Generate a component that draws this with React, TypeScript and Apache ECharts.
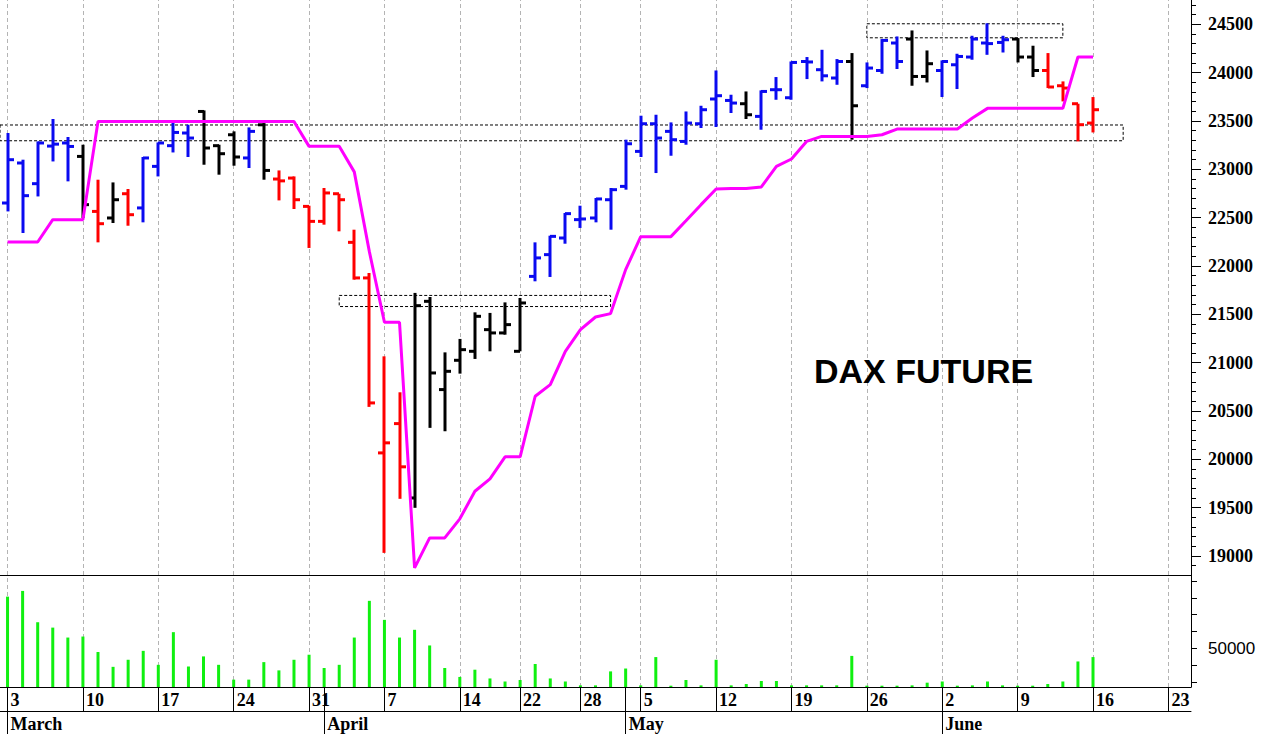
import React, { useEffect, useRef } from 'react';
import * as echarts from 'echarts';

// ---- categories (trading days, plus empty days to the axis end) ----
const marchDays = [3, 4, 5, 6, 7, 10, 11, 12, 13, 14, 17, 18, 19, 20, 21, 24, 25, 26, 27, 28, 31];
const aprilDays = [1, 2, 3, 4, 7, 8, 9, 10, 11, 14, 15, 16, 17, 22, 23, 24, 25, 28, 29, 30];
const mayDays = [2, 5, 6, 7, 8, 9, 12, 13, 14, 15, 16, 19, 20, 21, 22, 23, 26, 27, 28, 29, 30];
const juneDays = [2, 3, 4, 5, 6, 9, 10, 11, 12, 13, 16, 17, 18, 19, 20, 23, 24];
const monthNames: Record<number, string> = { 3: 'March', 4: 'April', 5: 'May', 6: 'June' };

const pad = (n: number) => (n < 10 ? '0' + n : '' + n);
const categories: string[] = [
  ...marchDays.map((d) => `2025-03-${pad(d)}`),
  ...aprilDays.map((d) => `2025-04-${pad(d)}`),
  ...mayDays.map((d) => `2025-05-${pad(d)}`),
  ...juneDays.map((d) => `2025-06-${pad(d)}`),
];

// ---- OHLC ----
const opens = [
  22651, 23065, 22851, 23240, 23272, 23133, 22564, 22496, 22747, 22600,
  23030, 23244, 23375, 23598, 23244, 23357, 23117, 23460, 22899, 22909,
  22616, 22461, 22747, 22244, 21876, 20066, 20369, 19600, 21634, 20721,
  21024, 21117, 21341, 21307, 21117, 21892, 22117, 22289, 22479, 22496,
  22685, 22823, 23185, 23471, 23392, 23288, 23471, 23727, 23712, 23678,
  23547, 23823, 23740, 24115, 24030, 23944, 24115, 23864, 24022, 24306,
  24347, 23960, 24022, 24081, 24161, 24306, 24312, 24347, 24161, 24022,
  23864, 23678, 23478,
];
const highs = [
  23375, 23099, 23288, 23520, 23334, 23254, 22892, 22864, 22796, 23127,
  23278, 23505, 23461, 23609, 23254, 23392, 23433, 23478, 22988, 22926,
  22623, 22806, 22747, 22375, 21927, 21065, 20693, 21721, 21679, 21106,
  21245, 21520, 21514, 21623, 21669, 22244, 22313, 22548, 22623, 22703,
  22806, 23306, 23554, 23564, 23485, 23598, 23657, 24022, 23771, 23805,
  23816, 23954, 24115, 24161, 24236, 24140, 24202, 24105, 24347, 24374,
  24436, 24229, 24126, 24195, 24381, 24510, 24381, 24357, 24278, 24202,
  23909, 23678, 23747,
];
const lows = [
  22564, 22341, 22719, 23081, 22875, 22496, 22244, 22444, 22416, 22451,
  22926, 23174, 23127, 23047, 22944, 23037, 23013, 22892, 22678, 22589,
  22186, 22427, 22358, 21858, 20542, 19032, 19591, 19498, 20325, 20290,
  20886, 21038, 21117, 21289, 21117, 21841, 21886, 22230, 22393, 22451,
  22375, 22789, 23127, 22961, 23140, 23254, 23427, 23437, 23582, 23520,
  23409, 23719, 23719, 23933, 23909, 23874, 23306, 23840, 23988, 24037,
  23864, 23898, 23747, 23830, 24133, 24184, 24208, 24105, 23954, 23840,
  23702, 23288, 23381,
];
const closes = [
  23099, 22727, 23272, 23260, 23236, 22634, 22437, 22685, 22530, 23117,
  23272, 23381, 23323, 23220, 23161, 23127, 23392, 22988, 22880, 22685,
  22461, 22755, 22685, 21876, 20583, 20170, 19922, 21589, 20893, 20910,
  21134, 21479, 21307, 21393, 21617, 22083, 22306, 22541, 22486, 22693,
  22789, 23264, 23471, 23323, 23306, 23478, 23616, 23761, 23685, 23564,
  23805, 23823, 24105, 24110, 23967, 24115, 23657, 24047, 24333, 24115,
  23960, 24092, 24115, 24167, 24347, 24300, 24340, 24161, 24022, 23851,
  23840, 23461, 23616,
];
// trend colour of each bar: B blue, R red, K black
const trend = (
  'BBBBB' + 'K' + 'R' + 'K' + 'R' + 'BBBB' + 'KKK' + 'B' + 'K' + 'RRRRRRRRR' +
  'KKKKKKKK' + 'BBBBBBBBBBBBBB' + 'K' + 'BBBBBB' + 'K' + 'BBB' + 'KK' + 'BBBBB' + 'KK' + 'RRRR'
).split('');

// ---- stop line (magenta) ----
const stopLine = [
  22248, 22248, 22248, 22479, 22479, 22479, 23495, 23495, 23495, 23495,
  23495, 23495, 23495, 23495, 23495, 23495, 23495, 23495, 23495, 23495,
  23237, 23237, 23237, 22973, 22148, 21417, 21417, 18877, 19187, 19187,
  19384, 19669, 19797, 20025, 20025, 20652, 20772, 21117, 21341, 21472,
  21507, 21962, 22303, 22303, 22303, 22468, 22634, 22796, 22800, 22800,
  22817, 23030, 23106, 23288, 23340, 23340, 23340, 23340, 23357, 23416,
  23416, 23416, 23416, 23416, 23530, 23630, 23630, 23630, 23630, 23630,
  23630, 24161, 24161,
];

// ---- volume ----
const volumes = [
  80700, 84100, 65500, 62300, 56400, 57000, 47800, 39000, 43200, 48500,
  40200, 59600, 39200, 45200, 40200, 31400, 31400, 41800, 36900, 43200,
  46200, 38300, 40200, 56400, 78200, 66900, 56400, 61000, 51700, 38300,
  33000, 37300, 32100, 30300, 31200, 40700, 32100, 30300, 28000, 28000,
  36300, 38000, 28000, 44800, 27800, 31200, 28000, 43200, 28000, 28800,
  30600, 30600, 28000, 28000, 28000, 28000, 45500, 27800, 27800, 27800,
  28000, 29600, 30300, 27800, 28000, 30300, 28000, 27800, 27800, 28800,
  30300, 42200, 44800,
];

// ---- dashed zones ----
const zoneStartIdx: (number | null)[] = [null, 22, 57];
const zoneEndIdx = [74, 40, 70];
const zoneHigh = [23458, 21695, 24505];
const zoneLow = [23295, 21580, 24360];

// ---- axis ticks / labels ----
const priceLabels = [19000, 19500, 20000, 20500, 21000, 21500, 22000, 22500, 23000, 23500, 24000, 24500];
const volumeTicks = [30000, 40000, 50000, 60000, 70000, 80000, 90000];
const volumeLabels = [50000];

const PRICE_MIN = 18803;
const PRICE_MAX = 24751;
const VOL_MIN = 27026;
const VOL_MAX = 93554;

const colorOf: Record<string, string> = { B: '#0a0af0', R: '#ff0000', K: '#000000' };

const serif = '"Liberation Serif", "Times New Roman", serif';
const sans = '"Liberation Sans", Arial, sans-serif';

export default function App() {
  const ref = useRef<HTMLDivElement>(null);

  useEffect(() => {
    if (!ref.current) return;
    const chart = echarts.init(ref.current, undefined, { renderer: 'svg' });

    const dates = categories.map((c) => new Date(c + 'T00:00:00Z'));
    const weekStart = dates.map(
      (d, i) =>
        i === 0 ||
        d.getUTCDay() <= dates[i - 1].getUTCDay() ||
        d.getTime() - dates[i - 1].getTime() >= 7 * 864e5
    );
    const monthStart = dates.map((d, i) => i === 0 || d.getUTCMonth() !== dates[i - 1].getUTCMonth());
    const weekCats = categories.filter((_, i) => weekStart[i]);

    const minorTicks: number[] = [];
    for (let v = 18900; v <= 24700; v += 100) minorTicks.push(v);

    const ohlc = opens.map((o, i) => [i, o, highs[i], lows[i], closes[i]]);

    const gridLines = {
      silent: true,
      z: 0,
      symbol: ['none', 'none'],
      label: { show: false },
      lineStyle: { type: [4, 3], color: '#b4b4b4', width: 1 },
      emphasis: { disabled: true },
      data: weekCats.map((c) => ({ xAxis: c })),
      animation: false,
    };

    const zones = zoneEndIdx.map((e, k) => {
      const s = zoneStartIdx[k];
      const first: any = { yAxis: zoneHigh[k] };
      if (s !== null) first.xAxis = categories[s];
      return [first, { xAxis: categories[e], yAxis: zoneLow[k] }];
    });

    const option: any = {
      animation: false,
      backgroundColor: '#ffffff',
      grid: [
        { left: 0, right: 71, top: 0, height: 575 },
        { left: 0, right: 71, top: 575, height: 112 },
      ],
      xAxis: [
        {
          type: 'category',
          gridIndex: 0,
          data: categories,
          boundaryGap: true,
          axisLine: { show: true, onZero: false, lineStyle: { color: '#000', width: 1 } },
          axisTick: { show: false },
          axisLabel: { show: false },
          splitLine: { show: false },
        },
        {
          type: 'category',
          gridIndex: 1,
          data: categories,
          position: 'bottom',
          boundaryGap: true,
          axisLine: { show: true, onZero: false, lineStyle: { color: '#000', width: 1 } },
          axisTick: {
            show: true,
            alignWithLabel: true,
            interval: (i: number) => weekStart[i] || monthStart[i],
            length: 24,
            lineStyle: { color: '#000', width: 1 },
          },
          axisLabel: {
            show: true,
            interval: (i: number) => weekStart[i],
            formatter: (v: string) => String(parseInt(v.slice(8), 10)),
            align: 'left',
            margin: 4,
            padding: [0, 0, 0, 3],
            fontFamily: serif,
            fontWeight: 'bold',
            fontSize: 18,
            color: '#000',
          },
          splitLine: { show: false },
        },
        {
          type: 'category',
          gridIndex: 1,
          data: categories,
          position: 'bottom',
          offset: 24,
          boundaryGap: true,
          axisLine: { show: true, onZero: false, lineStyle: { color: '#000', width: 1 } },
          axisTick: {
            show: true,
            alignWithLabel: true,
            interval: (i: number) => monthStart[i],
            length: 24,
            lineStyle: { color: '#000', width: 1 },
          },
          axisLabel: {
            show: true,
            interval: (i: number) => monthStart[i],
            formatter: (v: string) => monthNames[parseInt(v.slice(5, 7), 10)],
            align: 'left',
            margin: 4,
            padding: [0, 0, 0, 3],
            fontFamily: serif,
            fontWeight: 'bold',
            fontSize: 18,
            color: '#000',
          },
          splitLine: { show: false },
        },
      ],
      yAxis: [
        {
          type: 'value',
          gridIndex: 0,
          position: 'right',
          min: PRICE_MIN,
          max: PRICE_MAX,
          axisLine: { show: true, onZero: false, lineStyle: { color: '#000', width: 1 } },
          axisTick: { show: true, length: 5, customValues: minorTicks, lineStyle: { color: '#000' } },
          axisLabel: {
            show: true,
            customValues: priceLabels,
            formatter: (v: number) => String(v),
            margin: 17,
            padding: [6, 0, 0, 0],
            fontFamily: serif,
            fontWeight: 'bold',
            fontSize: 18,
            color: '#000',
          },
          splitLine: { show: false },
        },
        {
          type: 'value',
          gridIndex: 0,
          position: 'right',
          min: PRICE_MIN,
          max: PRICE_MAX,
          axisLine: { show: false, onZero: false },
          axisTick: { show: true, length: 10, customValues: priceLabels, lineStyle: { color: '#000' } },
          axisLabel: { show: false },
          splitLine: { show: false },
        },
        {
          type: 'value',
          gridIndex: 1,
          position: 'right',
          min: VOL_MIN,
          max: VOL_MAX,
          startValue: VOL_MIN,
          axisLine: { show: true, onZero: false, lineStyle: { color: '#000', width: 1 } },
          axisTick: { show: true, length: 6, customValues: volumeTicks, lineStyle: { color: '#000' } },
          axisLabel: {
            show: true,
            customValues: volumeLabels,
            formatter: (v: number) => String(v),
            margin: 17,
            fontFamily: sans,
            fontSize: 17,
            color: '#000',
          },
          splitLine: { show: false },
        },
      ],
      series: [
        {
          name: 'grid-price',
          type: 'line',
          xAxisIndex: 0,
          yAxisIndex: 0,
          data: closes,
          showSymbol: false,
          symbol: 'none',
          lineStyle: { opacity: 0 },
          silent: true,
          z: 0,
          markLine: gridLines,
          markArea: {
            silent: true,
            z: 0,
            itemStyle: { color: 'rgba(0,0,0,0)', borderColor: '#000', borderWidth: 1, borderType: [3, 2] },
            label: { show: false },
            emphasis: { disabled: true },
            data: zones,
          },
        },
        {
          name: 'DAX',
          type: 'custom',
          xAxisIndex: 0,
          yAxisIndex: 0,
          z: 3,
          data: ohlc,
          encode: { x: 0, y: [1, 2, 3, 4] },
          renderItem: (params: any, api: any) => {
            const i = api.value(0);
            const pO = api.coord([i, api.value(1)]);
            const pH = api.coord([i, api.value(2)]);
            const pL = api.coord([i, api.value(3)]);
            const pC = api.coord([i, api.value(4)]);
            const x = Math.round(pH[0]);
            const color = colorOf[trend[params.dataIndex]] || '#000';
            const style = { stroke: color, lineWidth: 3, lineCap: 'butt' };
            return {
              type: 'group',
              children: [
                { type: 'line', shape: { x1: x, y1: pH[1], x2: x, y2: pL[1] }, style },
                { type: 'line', shape: { x1: x - 6, y1: pO[1], x2: x, y2: pO[1] }, style },
                { type: 'line', shape: { x1: x, y1: pC[1], x2: x + 6, y2: pC[1] }, style },
              ],
            };
          },
        },
        {
          name: 'Stop',
          type: 'line',
          xAxisIndex: 0,
          yAxisIndex: 0,
          data: stopLine,
          showSymbol: false,
          symbol: 'none',
          z: 4,
          lineStyle: { color: '#ff00ff', width: 3 },
        },
        {
          name: 'grid-volume',
          type: 'line',
          xAxisIndex: 1,
          yAxisIndex: 2,
          data: volumes,
          showSymbol: false,
          symbol: 'none',
          lineStyle: { opacity: 0 },
          silent: true,
          z: 0,
          markLine: gridLines,
        },
        {
          name: 'Volume',
          type: 'bar',
          xAxisIndex: 1,
          yAxisIndex: 2,
          data: volumes,
          barWidth: 3,
          clip: true,
          z: 3,
          itemStyle: { color: '#10f010' },
        },
      ],
      graphic: [
        {
          type: 'text',
          x: 814,
          y: 371,
          z: 10,
          style: {
            text: 'DAX FUTURE',
            fill: '#000',
            font: `bold 34px ${sans}`,
            align: 'left',
            verticalAlign: 'middle',
          },
        },
      ],
    };

    chart.setOption(option);
    return () => chart.dispose();
  }, []);

  return (
    <div
      ref={ref}
      style={{ position: 'absolute', left: 0, top: 0, width: 1262, height: 734 }}
    />
  );
}
